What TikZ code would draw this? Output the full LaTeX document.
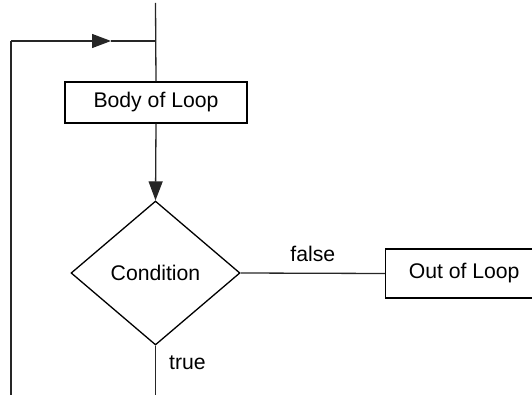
\documentclass[tikz,border=0pt]{standalone}
\usepackage{fontspec}
\setmainfont{Liberation Sans}
\usetikzlibrary{shapes.geometric,arrows.meta}
\begin{document}
\begin{tikzpicture}[x=1pt,y=-1pt,
  flow/.style={line width=1.3pt,draw=black!85},
  arrowed/.style={flow,-{Triangle[length=19pt,width=14pt]}},
  procbox/.style={draw=black,line width=1.3pt,rectangle,inner sep=0pt,font=\fontsize{21.2}{25}\selectfont},
  decision/.style={draw=black,line width=1.3pt,diamond,inner sep=0pt,aspect=1.17,font=\fontsize{21.2}{25}\selectfont},
  lbl/.style={font=\fontsize{21.2}{25}\selectfont,inner sep=0pt}]
\useasboundingbox (0,0) rectangle (532,395);
\clip (0,0) rectangle (532,395);

% blocks of the loop
\node[procbox,minimum width=182pt,minimum height=41pt] (body) at (156,102.5) {Body of Loop};
\node[decision,minimum width=169pt,minimum height=144pt] (cond) at (155.5,273) {Condition};
\node[procbox,minimum width=157pt,minimum height=49pt,anchor=west] (out) at (385,273.5) {Out of Loop};

% free ends and corners of the connectors
\coordinate (entry) at (155.5,3);
\coordinate (join) at (155.5,41);
\coordinate (corner) at (11,41);
\coordinate (mid) at (111,41);
\coordinate (back) at (11,395);
\coordinate (exit) at (155.5,395);

% connectors
\draw[flow] (entry) -- (body.north);
\draw[arrowed] (body.south) -- (cond.north);
\draw[flow] (cond.east) -- node[lbl,above=11pt] {false} (out.west);
\draw[flow] (cond.south) -- (exit);
\draw[flow] (back) -- (corner);
\draw[arrowed] (corner) -- (mid);
\draw[flow] (mid) -- (join);

\node[lbl] (truelbl) at (187.5,363) {true};
\end{tikzpicture}
\end{document}
